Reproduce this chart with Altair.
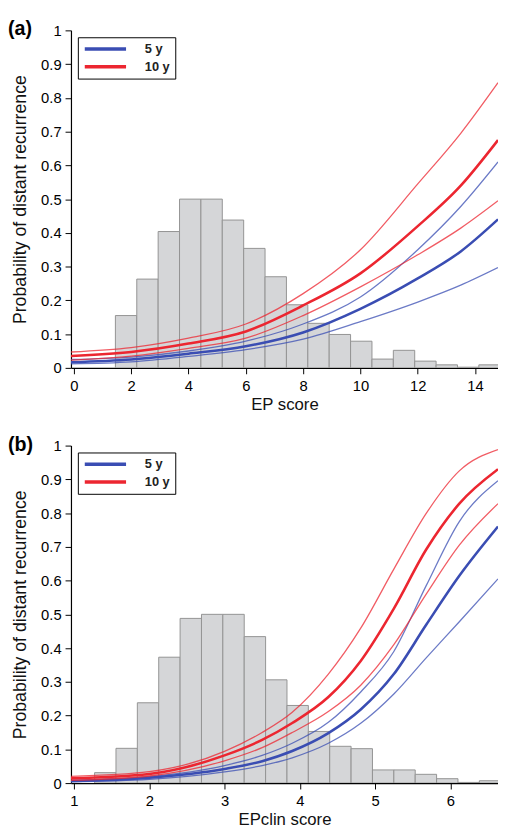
import altair as alt
import pandas as pd
import numpy as np

FONT = "Liberation Sans"
BLUE = "#3a4db3"
RED = "#ec2630"

# ---------------- Panel (a): EP score ----------------
a_x = [-0.1, 2, 4, 6, 8, 10, 12, 13.5, 14.8]
a_5y_mid = [0.017, 0.025, 0.042, 0.064, 0.105, 0.175, 0.265, 0.345, 0.440]
a_5y_lo = [0.012, 0.018, 0.034, 0.054, 0.085, 0.137, 0.195, 0.245, 0.297]
a_5y_hi = [0.025, 0.032, 0.050, 0.079, 0.130, 0.210, 0.350, 0.478, 0.610]
a_10y_mid = [0.035, 0.047, 0.072, 0.108, 0.185, 0.280, 0.420, 0.540, 0.675]
a_10y_lo = [0.023, 0.035, 0.058, 0.088, 0.155, 0.240, 0.335, 0.414, 0.495]
a_10y_hi = [0.047, 0.060, 0.088, 0.130, 0.220, 0.350, 0.545, 0.695, 0.845]
a_hist_start = 1.45
a_hist_width = 0.746
a_hist = [0.155, 0.263, 0.404, 0.50, 0.50, 0.438, 0.354, 0.27, 0.187, 0.132,
          0.099, 0.079, 0.026, 0.052, 0.02, 0.009, 0.002, 0.009]
a_xdomain = [-0.1, 14.8]
a_xticks = [0, 2, 4, 6, 8, 10, 12, 14]

# ---------------- Panel (b): EPclin score ----------------
b_x = [0.96, 2, 3, 3.5, 3.9, 4.38, 4.81, 5.25, 5.68, 6.12, 6.634]
b_5y_mid = [0.006, 0.016, 0.042, 0.065, 0.095, 0.148, 0.218, 0.323, 0.469, 0.614, 0.760]
b_5y_lo = [0.004, 0.011, 0.033, 0.052, 0.075, 0.118, 0.177, 0.264, 0.371, 0.478, 0.605]
b_5y_hi = [0.008, 0.019, 0.052, 0.082, 0.118, 0.180, 0.270, 0.390, 0.585, 0.775, 0.896]
b_10y_mid = [0.014, 0.027, 0.082, 0.128, 0.178, 0.255, 0.362, 0.517, 0.692, 0.828, 0.930]
b_10y_lo = [0.008, 0.021, 0.066, 0.105, 0.150, 0.212, 0.290, 0.410, 0.560, 0.705, 0.828]
b_10y_hi = [0.020, 0.034, 0.094, 0.150, 0.210, 0.323, 0.459, 0.634, 0.799, 0.925, 0.988]
b_hist_start = 1.274
b_hist_width = 0.284
b_hist = [0.031, 0.103, 0.238, 0.373, 0.488, 0.50, 0.50, 0.434, 0.306, 0.23,
          0.153, 0.109, 0.102, 0.039, 0.039, 0.026, 0.013, 0.002, 0.007]
b_xdomain = [0.96, 6.634]
b_xticks = [1, 2, 3, 4, 5, 6]

y_ticks = [0, 0.1, 0.2, 0.3, 0.4, 0.5, 0.6, 0.7, 0.8, 0.9, 1]
y_title = "Probability of distant recurrence"
horizons = ["5 y", "10 y"]


def line_frame(xs, s5, s10):
    rows = []
    for hz, bands in (("5 y", s5), ("10 y", s10)):
        for band, vals in bands.items():
            for x, p in zip(xs, vals):
                rows.append({"x": x, "p": p, "horizon": hz, "band": band})
    return pd.DataFrame(rows)


def panel(label, xs, s5, s10, hstart, hwidth, hist, xdomain, xticks, xtitle):
    n = len(hist)
    hist_df = pd.DataFrame({
        "x0": hstart + np.arange(n) * hwidth,
        "x1": hstart + (np.arange(n) + 1) * hwidth,
        "h": hist,
    })
    xs_scale = alt.Scale(domain=xdomain, nice=False, zero=False)
    ys_scale = alt.Scale(domain=[0, 1], nice=False)
    x_axis = alt.Axis(values=xticks, title=xtitle, format="d", labelOverlap=False,
                      titlePadding=3, labelPadding=5)
    y_axis = alt.Axis(values=y_ticks, tickCount=11, format="~g", labelOverlap=False,
                      title=y_title, titleFontSize=18, titlePadding=11,
                      labelPadding=4)

    bars = alt.Chart(hist_df).mark_rect(
        fill="#d5d6d8", stroke="#939393", strokeWidth=1, clip=True
    ).encode(
        x=alt.X("x0:Q", scale=xs_scale, axis=x_axis),
        x2="x1:Q",
        y=alt.Y("h:Q", scale=ys_scale, axis=y_axis),
        y2=alt.datum(0),
    )

    ldf = line_frame(xs, s5, s10)
    lines = alt.Chart(ldf).mark_line(interpolate="monotone", clip=True).encode(
        x=alt.X("x:Q", scale=xs_scale, axis=x_axis),
        y=alt.Y("p:Q", scale=ys_scale, axis=y_axis),
        color=alt.Color(
            "horizon:N",
            scale=alt.Scale(domain=horizons, range=[BLUE, RED]),
            legend=alt.Legend(
                title=None, orient="none", legendX=7, legendY=7,
                strokeColor="black", fillColor="white", padding=5,
                symbolType="M-4,0H4", symbolSize=110, symbolStrokeWidth=3.5,
                symbolOffset=16, labelOffset=33,
                symbolOpacity=1, labelFontSize=13, labelFontWeight="bold",
                labelFont=FONT, labelColor="#222", rowPadding=4,
                labelExpr="datum.label + '\u00a0\u00a0'",
            ),
        ),
        detail="band:N",
        strokeWidth=alt.condition("datum.band == 'mid'", alt.value(2.6), alt.value(1.3)),
        opacity=alt.condition("datum.band == 'mid'", alt.value(1.0), alt.value(0.75)),
    )

    lab = alt.Chart(pd.DataFrame({"t": [label]})).mark_text(
        align="left", baseline="middle", fontSize=20, fontWeight="bold",
        font=FONT, color="black"
    ).encode(x=alt.value(-64), y=alt.value(-1), text="t:N")

    return alt.layer(bars, lines, lab).properties(width=434, height=343)


pa = panel("(a)", a_x,
           {"lo": a_5y_lo, "mid": a_5y_mid, "hi": a_5y_hi},
           {"lo": a_10y_lo, "mid": a_10y_mid, "hi": a_10y_hi},
           a_hist_start, a_hist_width, a_hist, a_xdomain, a_xticks, "EP score")
pb = panel("(b)", b_x,
           {"lo": b_5y_lo, "mid": b_5y_mid, "hi": b_5y_hi},
           {"lo": b_10y_lo, "mid": b_10y_mid, "hi": b_10y_hi},
           b_hist_start, b_hist_width, b_hist, b_xdomain, b_xticks, "EPclin score")

chart = alt.vconcat(pa, pb, spacing=23).resolve_scale(
    color="independent"
).resolve_legend(color="independent").properties(
    padding={"left": 0, "top": 5, "right": 0, "bottom": 0}
).configure_view(stroke=None).configure_axis(
    labelFont=FONT, titleFont=FONT, labelFontSize=15, titleFontSize=17,
    titleFontWeight="normal", labelColor="#000", titleColor="#111",
    domainColor="black", domainWidth=1.2, tickColor="black", tickSize=6,
    grid=False,
)

chart.save("out.html", embed_options={"renderer": "svg", "actions": False})
